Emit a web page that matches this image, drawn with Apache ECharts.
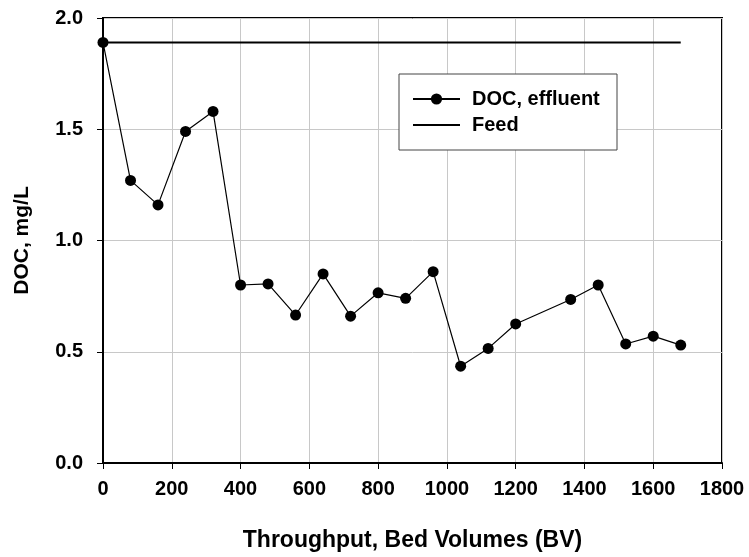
<!DOCTYPE html>
<html>
<head>
<meta charset="utf-8">
<script src="https://cdn.jsdelivr.net/npm/echarts@6/dist/echarts.min.js"></script>
<style>
  html, body { margin: 0; padding: 0; background: #fff; }
  #chart { width: 749px; height: 557px; }
</style>
</head>
<body>
<div id="chart"></div>
<script>
// Throughput (bed volumes) at each sample
const bedVolumes = [0, 80, 160, 240, 320, 400, 480, 560, 640, 720, 800, 880, 960, 1040, 1120, 1200, 1360, 1440, 1520, 1600, 1680];
// Effluent DOC, mg/L
const docEffluent = [1.89, 1.27, 1.16, 1.49, 1.58, 0.80, 0.805, 0.665, 0.85, 0.66, 0.765, 0.74, 0.86, 0.435, 0.515, 0.625, 0.735, 0.80, 0.535, 0.57, 0.53];
// Feed DOC level and the span it covers
const feedLevel = 1.89;
const feedSpan = [0, 1680];

const xTicks = ['0', '200', '400', '600', '800', '1000', '1200', '1400', '1600', '1800'];
const yTicks = ['0.0', '0.5', '1.0', '1.5', '2.0'];

const FONT = '"Liberation Sans", Arial, Helvetica, sans-serif';

const chart = echarts.init(document.getElementById('chart'), null, { renderer: 'canvas' });

chart.setOption({
  animation: false,
  backgroundColor: '#fff',
  grid: {
    left: 103, right: 27, top: 18, bottom: 94,
    show: true, borderColor: '#000', borderWidth: 2
  },
  legend: {
    orient: 'vertical',
    left: 412, top: 89,
    itemWidth: 47, itemHeight: 14, itemGap: 6,
    padding: 0,
    textStyle: {
      fontFamily: FONT, fontWeight: 'bold', fontSize: 20, color: '#000',
      padding: [0, 0, 0, 7]
    },
    data: [
      { name: 'DOC, effluent' },
      { name: 'Feed', icon: 'path://M0,0H47V2.2H0Z' }
    ]
  },
  graphic: [{
    type: 'rect', z: 3,
    shape: { x: 399, y: 74, width: 218, height: 76 },
    style: { fill: '#fff', stroke: '#444', lineWidth: 1 }
  }],
  xAxis: {
    type: 'value',
    min: 0, max: 1800, interval: 200,
    name: 'Throughput, Bed Volumes (BV)',
    nameLocation: 'middle', nameGap: 66,
    nameTextStyle: { fontFamily: FONT, fontWeight: 'bold', fontSize: 23, color: '#000' },
    axisLine: { lineStyle: { color: '#000', width: 2 } },
    axisTick: { show: true, inside: false, length: 6, lineStyle: { color: '#000', width: 1 } },
    axisLabel: {
      margin: 16, fontFamily: FONT, fontWeight: 'bold', fontSize: 20, color: '#000',
      formatter: (v) => xTicks[Math.round(v / 200)]
    },
    splitLine: { show: true, lineStyle: { color: '#c8c8c8', width: 1 } }
  },
  yAxis: {
    type: 'value',
    min: 0, max: 2, interval: 0.5,
    name: 'DOC, mg/L',
    nameLocation: 'middle', nameGap: 70,
    nameTextStyle: { fontFamily: FONT, fontWeight: 'bold', fontSize: 21, color: '#000' },
    axisLine: { show: true, lineStyle: { color: '#000', width: 2 } },
    axisTick: { show: true, inside: false, length: 6, lineStyle: { color: '#000', width: 1 } },
    axisLabel: {
      margin: 20, fontFamily: FONT, fontWeight: 'bold', fontSize: 20, color: '#000',
      formatter: (v) => yTicks[Math.round(v / 0.5)]
    },
    splitLine: { show: true, lineStyle: { color: '#c8c8c8', width: 1 } }
  },
  series: [
    {
      name: 'DOC, effluent',
      type: 'line',
      data: bedVolumes.map((x, i) => [x, docEffluent[i]]),
      symbol: 'circle', symbolSize: 11,
      itemStyle: { color: '#000' },
      lineStyle: { color: '#000', width: 1.2 },
      z: 3
    },
    {
      name: 'Feed',
      type: 'line',
      data: feedSpan.map((x) => [x, feedLevel]),
      symbol: 'none',
      itemStyle: { color: '#000' },
      lineStyle: { color: '#000', width: 2.2 },
      z: 2
    }
  ]
});
</script>
</body>
</html>
